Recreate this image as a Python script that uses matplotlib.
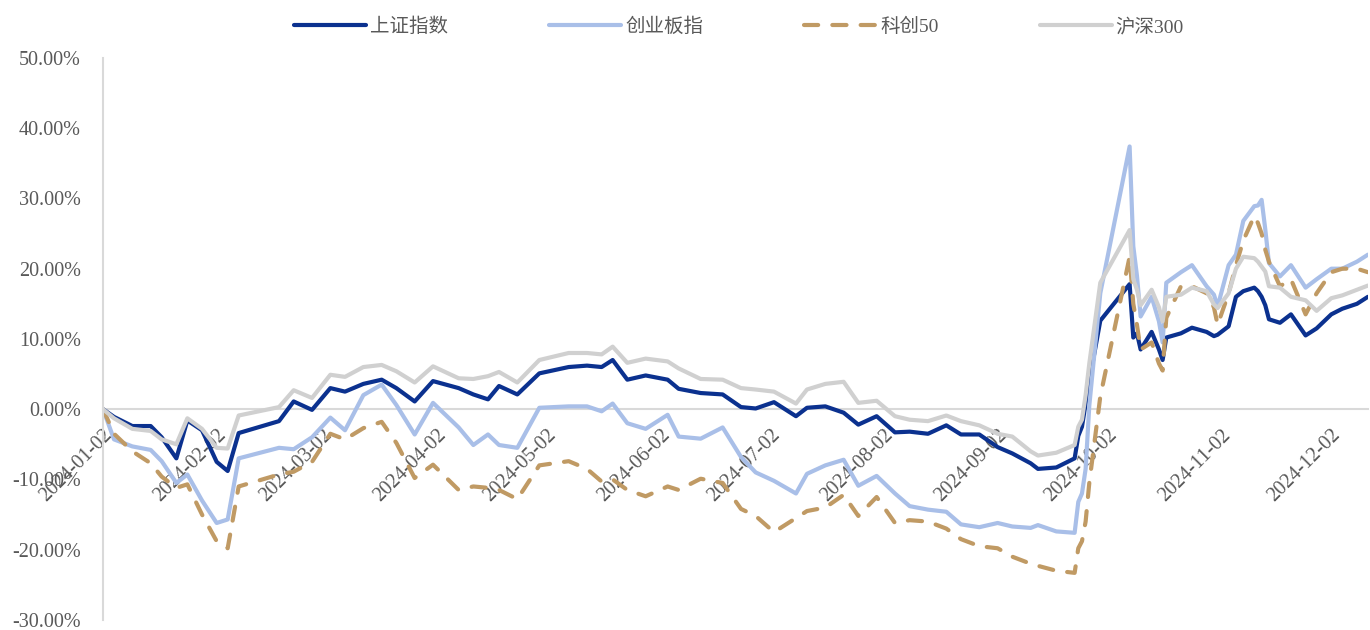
import matplotlib
matplotlib.use("Agg")
import matplotlib.pyplot as plt
import numpy as np

# 2024 年主要指数区间涨跌幅（%，以 2024-01-02 为基准）
dates = [
    "2024-01-02", "2024-01-05", "2024-01-10", "2024-01-15", "2024-01-18", "2024-01-22",
    "2024-01-25", "2024-01-29", "2024-02-02", "2024-02-05", "2024-02-08", "2024-02-19",
    "2024-02-23", "2024-02-28", "2024-03-04", "2024-03-08", "2024-03-13", "2024-03-18",
    "2024-03-22", "2024-03-27", "2024-04-01", "2024-04-08", "2024-04-12", "2024-04-16",
    "2024-04-19", "2024-04-24", "2024-04-30", "2024-05-08", "2024-05-13", "2024-05-17",
    "2024-05-20", "2024-05-24", "2024-05-29", "2024-06-04", "2024-06-07", "2024-06-13",
    "2024-06-19", "2024-06-24", "2024-06-28", "2024-07-03", "2024-07-09", "2024-07-12",
    "2024-07-17", "2024-07-22", "2024-07-26", "2024-07-31", "2024-08-05", "2024-08-09",
    "2024-08-14", "2024-08-19", "2024-08-23", "2024-08-28", "2024-09-02", "2024-09-06",
    "2024-09-11", "2024-09-13", "2024-09-18", "2024-09-23", "2024-09-24", "2024-09-25",
    "2024-09-26", "2024-09-27", "2024-09-30", "2024-10-08", "2024-10-09", "2024-10-10",
    "2024-10-11", "2024-10-14", "2024-10-16", "2024-10-17", "2024-10-18", "2024-10-22",
    "2024-10-25", "2024-10-29", "2024-10-31", "2024-11-01", "2024-11-04", "2024-11-06",
    "2024-11-08", "2024-11-11", "2024-11-12", "2024-11-13", "2024-11-14", "2024-11-15",
    "2024-11-18", "2024-11-21", "2024-11-25", "2024-11-28", "2024-12-02", "2024-12-05",
    "2024-12-09", "2024-12-12",
]

shanghai = [
    0.0, -1.1, -2.4, -2.4, -4.0, -7.0,
    -1.6, -3.0, -7.5, -8.8, -3.4, -1.7,
    1.1, -0.1, 3.0, 2.5, 3.6, 4.2,
    3.0, 1.1, 4.0, 3.0, 2.1, 1.4,
    3.3, 2.1, 5.1, 6.0, 6.2, 6.0,
    7.0, 4.2, 4.8, 4.2, 2.9, 2.3,
    2.1, 0.3, 0.1, 1.0, -1.0, 0.2,
    0.4, -0.5, -2.2, -1.0, -3.3, -3.2,
    -3.5, -2.3, -3.6, -3.6, -5.4, -6.3,
    -7.7, -8.5, -8.3, -7.0, -3.8, -2.5,
    0.8, 4.0, 12.6, 17.8, 10.2, 10.8,
    8.5, 11.0, 8.5, 7.0, 10.2, 10.8,
    11.6, 11.0, 10.4, 10.6, 11.8, 16.0,
    16.8, 17.3, 16.8, 16.0, 14.8, 12.8,
    12.3, 13.5, 10.5, 11.5, 13.5, 14.3,
    15.0, 16.0,
]

chinext = [
    0.0, -4.3, -5.3, -5.8, -7.4, -10.5,
    -9.3, -13.0, -16.2, -15.7, -7.0, -5.5,
    -5.7, -4.0, -1.2, -3.0, 2.0, 3.5,
    0.6, -3.6, 0.9, -2.6, -5.1, -3.6,
    -5.1, -5.5, 0.2, 0.4, 0.4, -0.3,
    0.8, -2.0, -2.8, -0.8, -3.9, -4.2,
    -2.6, -6.8, -9.0, -10.2, -12.0, -9.2,
    -8.0, -7.2, -10.9, -9.5, -12.0, -13.8,
    -14.3, -14.6, -16.4, -16.8, -16.2, -16.7,
    -16.9, -16.5, -17.4, -17.6, -13.2, -12.0,
    -8.5, 0.5, 16.5, 37.4, 23.2, 19.0,
    13.2, 16.0, 12.5, 9.5, 18.0, 19.5,
    20.5, 17.5, 16.3, 14.6, 20.5, 22.0,
    26.8, 28.9, 29.0, 29.8, 25.6, 20.8,
    18.9, 20.5, 17.3, 18.5, 20.0, 20.0,
    21.0, 22.0,
]

star50 = [
    0.0, -3.5, -6.0, -7.7, -9.6, -11.2,
    -10.7, -15.0, -18.8, -19.8, -11.0, -9.3,
    -8.9, -7.5, -3.5, -4.3, -2.7, -1.8,
    -4.8, -9.8, -7.9, -11.5, -11.0, -11.2,
    -11.5, -12.8, -8.0, -7.4, -8.5, -10.3,
    -10.0, -11.5, -12.4, -11.0, -11.5, -9.9,
    -10.5, -14.2, -15.2, -17.5, -15.5, -14.5,
    -14.0, -12.2, -15.2, -12.5, -16.2, -15.8,
    -16.0, -17.0, -18.5, -19.5, -19.8, -21.0,
    -22.0, -22.3, -23.0, -23.3, -19.8, -18.8,
    -16.0, -10.5, 1.8, 21.7, 15.0, 12.0,
    8.5, 9.5, 6.5, 5.5, 13.0, 17.5,
    17.5, 16.5, 14.5, 12.0, 16.5, 20.5,
    24.0, 27.5, 26.5, 25.0, 22.7, 21.0,
    17.5, 18.5, 13.5, 16.5, 19.5, 20.0,
    20.0, 19.5,
]

csi300 = [
    0.0, -1.3, -2.8, -3.1, -4.3, -5.0,
    -1.3, -2.8, -5.5, -5.6, -0.9, 0.3,
    2.7, 1.6, 4.9, 4.6, 6.0, 6.3,
    5.4, 3.8, 6.1, 4.4, 4.3, 4.7,
    5.3, 3.8, 7.0, 8.0, 8.0, 7.8,
    8.9, 6.6, 7.2, 6.8, 5.8, 4.3,
    4.2, 3.0, 2.8, 2.5, 0.8, 2.8,
    3.6, 3.9, 0.9, 1.2, -1.0, -1.5,
    -1.7, -0.9, -1.7, -2.3, -3.5, -3.9,
    -6.0, -6.6, -6.2, -5.1, -2.5, -1.5,
    2.0, 6.5, 18.0, 25.5, 18.5, 17.0,
    14.8, 17.0, 14.5, 12.5, 16.0, 16.3,
    17.3, 16.8, 14.9, 14.4, 16.5, 20.0,
    21.7, 21.5, 21.0, 20.3, 19.6, 17.5,
    17.3, 16.0, 15.5, 14.0, 15.8, 16.2,
    17.0, 17.6,
]

tick_dates = [
    "2024-01-02", "2024-02-02", "2024-03-02", "2024-04-02", "2024-05-02", "2024-06-02",
    "2024-07-02", "2024-08-02", "2024-09-02", "2024-10-02", "2024-11-02", "2024-12-02",
]

series = [
    ("上证指数", shanghai, "#0B318F", "-"),
    ("创业板指", chinext, "#A9BFE8", "-"),
    ("科创50", star50, "#C09A64", (0, (3.4, 3.4))),
    ("沪深300", csi300, "#D0D0D0", "-"),
]

text_color = "#595959"
fonts = ["Liberation Serif", "Noto Sans CJK SC", "DejaVu Sans"]
plt.rcParams["font.family"] = fonts

fig, ax = plt.subplots(figsize=(13.7, 6.3), dpi=100)
fig.subplots_adjust(left=0.0752, right=0.9985, bottom=0.016, top=0.908)

# 先把横轴移到 0 处（会重置刻度），再设置刻度
for side in ["top", "right"]:
    ax.spines[side].set_visible(False)
ax.spines["left"].set_color("#D9D9D9")
ax.spines["left"].set_linewidth(1.5)
ax.spines["bottom"].set_position(("data", 0))
ax.spines["bottom"].set_color("#D9D9D9")
ax.spines["bottom"].set_linewidth(1.5)
ax.spines["bottom"].set_zorder(0.5)

x = np.array(dates, dtype="datetime64[D]")
for name, values, color, style in series:
    ax.plot(x, values, color=color, lw=3.0, linestyle=style, label=name,
            solid_capstyle="round", solid_joinstyle="round",
            dash_capstyle="round", dash_joinstyle="round")

ax.set_xlim(x[0], x[-1])
ax.set_ylim(-30, 50)

# 纵轴：百分比刻度
yt = np.arange(-30, 51, 10)
ax.set_yticks(yt)
ax.set_yticklabels([f"{v:.2f}%" for v in yt])

# 横轴：标签贴着 0 轴，斜 45 度
ticks = np.array(tick_dates, dtype="datetime64[D]")
ax.set_xticks(ticks)
ax.set_xticklabels(tick_dates)
ax.tick_params(axis="both", length=0, labelcolor=text_color)
ax.tick_params(axis="y", labelsize=14.5, pad=16)
ax.tick_params(axis="x", labelsize=14.5, pad=12)
for lbl in ax.get_xticklabels():
    lbl.set_rotation(45)
    lbl.set_ha("right")
    lbl.set_va("top")
    lbl.set_rotation_mode("anchor")

fig.legend(loc="center", bbox_to_anchor=(739 / 1370, 1 - 27 / 630), ncol=4,
           frameon=False, handlelength=3.7, handletextpad=0.2, columnspacing=5.2,
           prop={"family": fonts, "size": 14}, labelcolor=text_color)

fig.savefig("out.png", dpi=100)
